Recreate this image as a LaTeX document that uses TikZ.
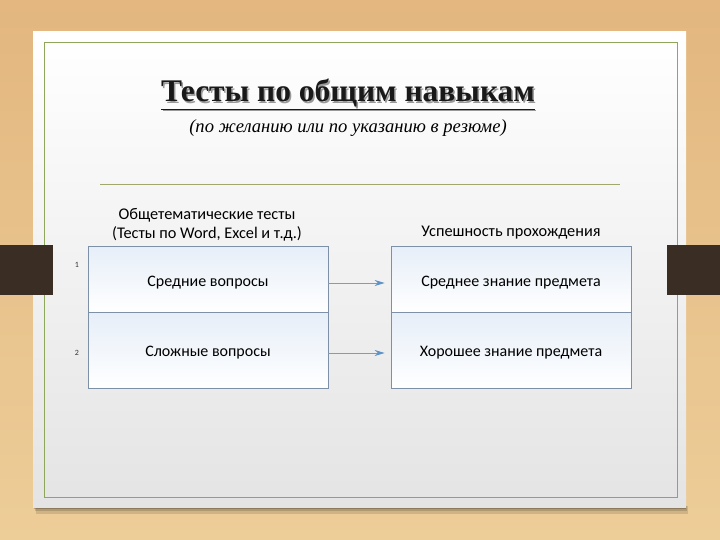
\documentclass[tikz,border=0pt]{standalone}
\usepackage{fontspec}
\setmainfont{Carlito}
\newfontfamily\titlefont{Liberation Serif}
\usetikzlibrary{arrows.meta,calc}
\definecolor{woodA}{HTML}{E3B77F}
\definecolor{woodB}{HTML}{EDCD98}
\definecolor{panelB}{HTML}{E4E4E4}
\definecolor{greenline}{HTML}{8FA75A}
\definecolor{rulecol}{HTML}{A3A76E}
\definecolor{barcol}{HTML}{3A2D23}
\definecolor{boxline}{HTML}{7E8FA8}
\definecolor{boxtop}{HTML}{E6EEF8}
\definecolor{arrowcol}{HTML}{5E92C8}
\definecolor{arrowline}{HTML}{7C9CC0}
\tikzset{
  cell/.style={draw=boxline, line width=0.7pt, top color=boxtop, bottom color=white, minimum width=240pt, inner sep=0pt},
  celltext/.style={font=\fontsize{16}{19}\selectfont, text=black, inner sep=0pt},
  headtext/.style={font=\fontsize{16.3}{19}\selectfont, align=center, text=black, inner sep=0pt},
  numtext/.style={font=\fontsize{8}{9}\selectfont, text=black!80, inner sep=0pt},
  conn/.style={draw=arrowline, line width=0.8pt, -{Stealth[length=10pt,width=6pt,color=arrowcol]}},
  titlestyle/.style={font=\titlefont\bfseries\fontsize{31.5}{34}\selectfont, inner sep=0pt, anchor=base},
  substyle/.style={font=\titlefont\itshape\fontsize{18.6}{21}\selectfont, inner sep=0pt, anchor=base}
}
\begin{document}
\begin{tikzpicture}[x=1pt,y=-1pt]
\useasboundingbox (0,0) rectangle (720,540);
% wood background
\shade[top color=woodA, bottom color=woodB] (0,0) rectangle (720,540);
% panel shadow
\fill[black, opacity=0.12] (36,506) rectangle (688,514);
\fill[black, opacity=0.15] (35,506) rectangle (687,511);
\fill[black, opacity=0.2] (34,506) rectangle (686,509);
% panel
\shade[top color=white, bottom color=panelB] (33,32) rectangle (686,507);
\draw[greenline, line width=0.8pt] (44,42) rectangle (677,497);
% dark bars
\fill[barcol] (0,245) rectangle (53,295);
\fill[barcol] (667,245) rectangle (720,295);
% title
\node[titlestyle, text=black!40] (titleshadow) at (349.5,103.5) {\underline{Тесты по общим навыкам}};
\node[titlestyle, text=black!90] (title) at (348,102) {\underline{Тесты по общим навыкам}};
\node[substyle] (subtitle) at (348,133) {(по желанию или по указанию в резюме)};
% rule
\draw[rulecol, line width=0.8pt] (100,184) -- (620,184);
% headers
\node[headtext] (lefthead) at (207,225) {Общетематические тесты\\(Тесты по Word, Excel и т.д.)};
\node[headtext] (righthead) at (511,233) {Успешность прохождения};
% left cells
\node[cell, minimum height=66pt] (q1) at (208,279) {};
\node[cell, minimum height=76pt] (q2) at (208,350) {};
\node[celltext] (q1t) at (208,283) {Средние вопросы};
\node[celltext] (q2t) at (208,353) {Сложные вопросы};
% right cells
\node[cell, minimum height=66pt] (a1) at (511,279) {};
\node[cell, minimum height=76pt] (a2) at (511,350) {};
\node[celltext] (a1t) at (511,283) {Среднее знание предмета};
\node[celltext] (a2t) at (511,353) {Хорошее знание предмета};
% numbers
\node[numtext] (n1) at (77,265) {1};
\node[numtext] (n2) at (77,353) {2};
% connectors
\draw[conn] (q1t -| q1.east) -- ($(a1t -| a1.west)+(-6,0)$);
\draw[conn] (q2t -| q2.east) -- ($(a2t -| a2.west)+(-6,0)$);
\end{tikzpicture}
\end{document}
